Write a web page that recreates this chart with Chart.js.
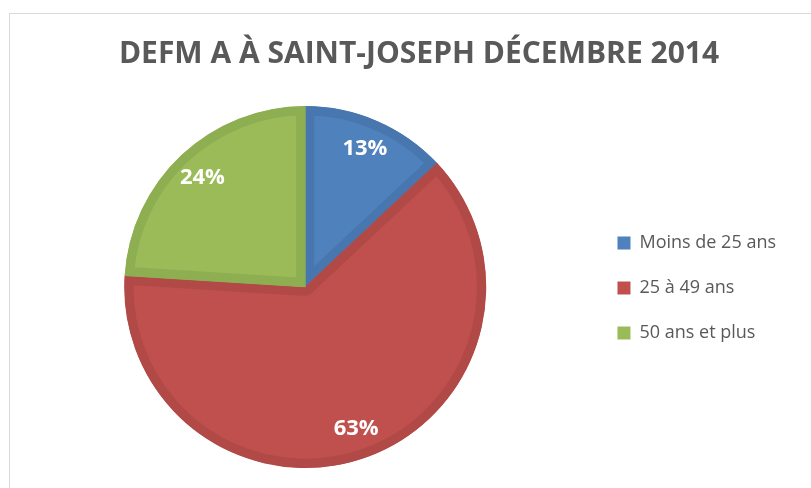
<!DOCTYPE html>
<html>
<head>
<meta charset="utf-8">
<script src="https://cdn.jsdelivr.net/npm/chart.js@4/dist/chart.umd.min.js"></script>
<style>
  html, body { margin: 0; padding: 0; background: #fff; overflow: hidden; width: 811px; height: 488px; }
  #frame { position: absolute; left: 9px; top: 13px; width: 900px; height: 520px; border: 1px solid #d9d9d9; }
  #chart { position: absolute; left: 0; top: 0; }
</style>
</head>
<body>
<div id="frame"><canvas id="chart" width="818" height="474"></canvas></div>
<script>
const titleText = "DEFM A À SAINT-JOSEPH DÉCEMBRE 2014";
const categories = ["Moins de 25 ans", "25 à 49 ans", "50 ans et plus"];
const shares = [13, 63, 24];
const fills = ["#4f81bd", "#c0504d", "#9bbb59"];
const edges = ["#4877b0", "#b14a47", "#8eae52"];

// percent labels inside the slices
const sliceLabels = {
  id: "sliceLabels",
  afterDatasetsDraw(chart) {
    const ctx = chart.ctx;
    const meta = chart.getDatasetMeta(0);
    ctx.save();
    ctx.font = "bold 22px 'Open Sans'";
    ctx.fillStyle = "#ffffff";
    ctx.textAlign = "center";
    ctx.textBaseline = "middle";
    meta.data.forEach((arc, i) => {
      const p = arc.getProps(["x", "y", "startAngle", "endAngle", "outerRadius"], true);
      const mid = (p.startAngle + p.endAngle) / 2;
      const r = p.outerRadius * 0.83;
      ctx.fillText(shares[i] + "%", p.x + Math.cos(mid) * r, p.y + Math.sin(mid) * r);
    });
    ctx.restore();
  }
};

// excel centres the title over the whole chart box, and the legend on the pie
const layoutFix = {
  id: "layoutFix",
  afterLayout(chart) {
    if (chart.titleBlock) {
      chart.titleBlock.left = 0;
      chart.titleBlock.right = chart.width;
    }
    if (chart.legend) {
      chart.legend.top += 47;
      chart.legend.bottom += 47;
    }
  }
};

new Chart(document.getElementById("chart"), {
  type: "pie",
  data: {
    labels: categories,
    datasets: [{
      data: shares,
      backgroundColor: fills,
      borderColor: edges,
      borderWidth: 9,
      borderAlign: "inner"
    }]
  },
  options: {
    responsive: false,
    animation: false,
    layout: { padding: { left: 10, right: 42, top: 0, bottom: 20 } },
    plugins: {
      title: {
        display: true,
        text: titleText,
        color: "#595959",
        font: { family: "'Open Sans'", size: 30, weight: "bold", lineHeight: 1.2 },
        padding: { top: 22, bottom: 34 }
      },
      legend: {
        position: "right",
        labels: {
          color: "#595959",
          font: { family: "'Open Sans'", size: 18 },
          boxWidth: 13,
          boxHeight: 13,
          padding: 27,
          generateLabels(chart) {
            return Chart.overrides.pie.plugins.legend.labels.generateLabels(chart).map(item => {
              item.lineWidth = 0;
              item.strokeStyle = item.fillStyle;
              return item;
            });
          }
        }
      },
      tooltip: { enabled: false }
    }
  },
  plugins: [sliceLabels, layoutFix]
});
</script>
</body>
</html>
